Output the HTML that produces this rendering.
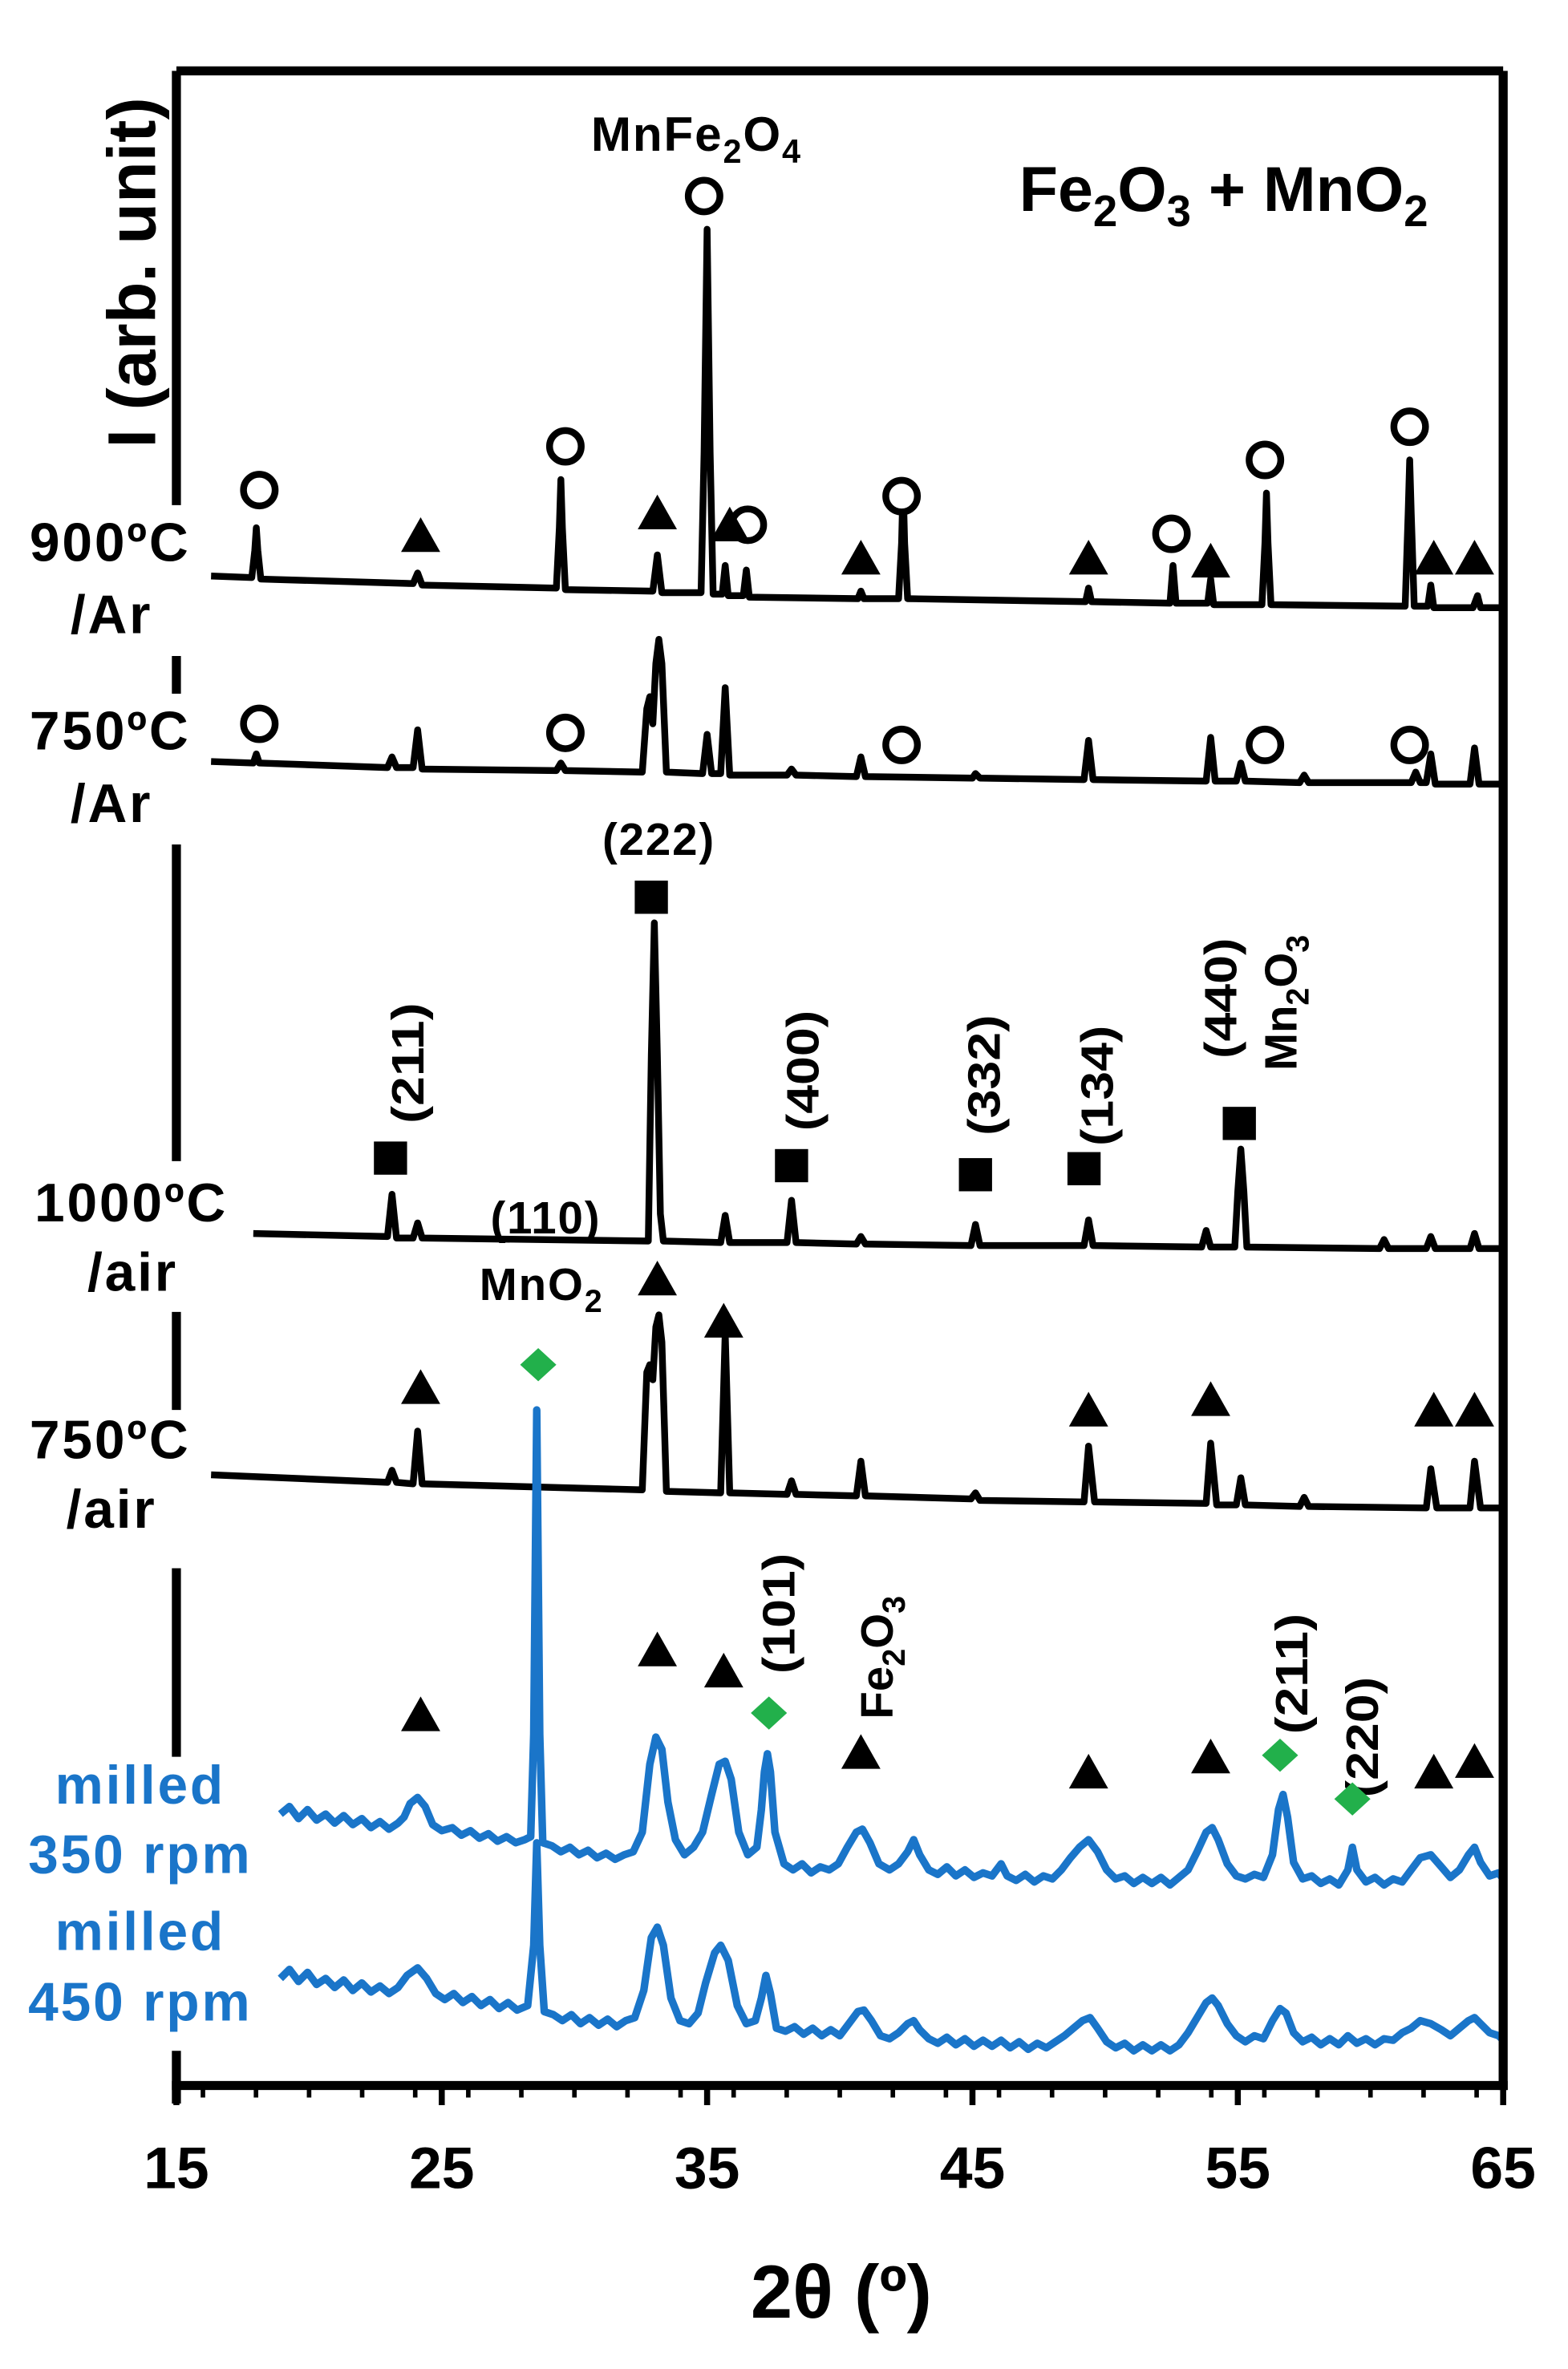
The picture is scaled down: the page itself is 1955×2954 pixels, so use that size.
<!DOCTYPE html>
<html><head><meta charset="utf-8"><style>html,body{margin:0;padding:0;background:#fff}svg{display:block}</style></head>
<body>
<svg width="1955" height="2954" viewBox="0 0 1040 1571" preserveAspectRatio="none" xmlns="http://www.w3.org/2000/svg" font-family="Liberation Sans, sans-serif" font-weight="bold">
<rect width="1040" height="1571" fill="#fff"/>
<g fill="none" stroke="#000" stroke-width="4.5" stroke-linejoin="round">
<path d="M140,382 L167,383 L169,365 L170,350 L171,365 L173,384 L274,387 L277,380 L280,388 L369,390 L371,350 L372,318 L373,350 L375,391 L433,392 L436,368 L439,393 L465,393 L467,300 L469,152 L471,300 L473,394 L479,394 L481,375 L483,395 L493,395 L495,378 L497,396 L569,397 L571,392 L573,397 L596,397 L598,360 L599,320 L600,360 L602,397 L720,399 L722,390 L724,399 L776,400 L778,375 L780,400 L801,400 L803,384 L805,401 L837,401 L839,360 L840,327 L841,360 L843,401 L932,402 L934,340 L935,305 L936,340 L938,402 L947,402 L949,388 L951,403 L977,403 L980,395 L982,403 L997,403"/>
<path d="M140,505 L168,506 L170,500 L172,506 L257,509 L260,502 L263,509 L274,509 L277,484 L280,510 L369,511 L372,506 L375,511 L426,512 L429,470 L431,462 L433,480 L435,440 L437,424 L439,440 L442,512 L466,513 L469,487 L472,513 L478,513 L481,456 L484,514 L522,514 L525,510 L528,514 L568,515 L571,502 L574,515 L645,516 L647,513 L650,516 L719,517 L722,491 L725,517 L800,518 L803,489 L806,518 L820,518 L823,506 L826,518 L862,519 L865,514 L868,519 L936,519 L939,512 L942,519 L946,519 L949,500 L952,520 L975,520 L978,496 L981,520 L997,520"/>
<path d="M168,818 L257,820 L260,792 L263,821 L274,821 L277,811 L280,821 L430,823 L432,700 L434,612 L436,700 L438,805 L440,823 L478,824 L481,806 L484,824 L522,824 L525,796 L528,824 L568,825 L571,820 L574,825 L644,826 L647,812 L650,826 L719,826 L722,809 L725,826 L797,827 L800,816 L803,827 L819,827 L821,790 L823,762 L825,790 L827,827 L915,828 L918,822 L921,828 L946,828 L949,820 L952,828 L975,828 L978,818 L981,828 L997,828"/>
<path d="M140,978 L257,983 L260,975 L263,983 L274,984 L277,949 L280,984 L426,988 L429,910 L431,905 L433,915 L435,880 L437,872 L439,890 L442,989 L478,990 L481,884 L484,990 L522,991 L525,982 L528,991 L568,992 L571,969 L574,992 L644,994 L647,990 L650,995 L719,996 L722,959 L726,996 L800,997 L803,957 L807,998 L820,998 L823,980 L826,998 L862,999 L865,993 L868,999 L946,1000 L949,974 L953,1000 L975,1000 L978,969 L982,1000 L997,1000"/>
</g>
<g fill="none" stroke="#1a75c9" stroke-width="5" stroke-linejoin="round">
<path d="M186,1203 L192,1198 L198,1206 L204,1200 L210,1207 L216,1203 L222,1209 L228,1204 L234,1210 L240,1206 L246,1212 L252,1208 L258,1213 L264,1209 L268,1205 L272,1196 L277,1192 L282,1198 L287,1210 L293,1214 L300,1212 L306,1217 L312,1214 L318,1219 L324,1216 L330,1221 L336,1218 L342,1222 L348,1220 L352,1218 L354,1150 L356,935 L358,1150 L360,1222 L366,1224 L372,1228 L378,1225 L384,1230 L390,1227 L396,1232 L402,1229 L408,1233 L414,1230 L420,1228 L426,1215 L431,1170 L435,1152 L439,1160 L443,1195 L448,1220 L454,1230 L460,1225 L466,1215 L472,1190 L477,1170 L481,1168 L485,1180 L490,1215 L496,1230 L502,1225 L505,1200 L507,1175 L509,1163 L511,1175 L514,1215 L520,1236 L526,1240 L532,1236 L538,1242 L544,1238 L550,1240 L556,1236 L562,1225 L568,1215 L572,1213 L577,1222 L583,1236 L590,1240 L596,1236 L602,1228 L606,1220 L610,1230 L616,1240 L622,1243 L628,1238 L634,1244 L640,1240 L646,1245 L652,1242 L658,1244 L664,1236 L668,1244 L674,1247 L680,1243 L686,1248 L692,1244 L698,1246 L704,1240 L710,1232 L716,1225 L722,1220 L728,1228 L734,1240 L740,1246 L746,1244 L752,1249 L758,1245 L764,1249 L770,1245 L776,1250 L782,1245 L788,1240 L794,1228 L800,1215 L804,1212 L808,1220 L814,1236 L820,1244 L826,1246 L832,1243 L838,1245 L844,1230 L848,1200 L851,1190 L854,1205 L858,1235 L864,1246 L870,1244 L876,1249 L882,1246 L888,1250 L894,1240 L897,1225 L900,1240 L906,1248 L912,1245 L918,1250 L924,1246 L930,1248 L936,1240 L942,1232 L949,1230 L956,1238 L962,1245 L968,1240 L974,1230 L978,1225 L982,1235 L988,1244 L994,1242 L997,1246"/>
<path d="M186,1312 L192,1306 L198,1314 L204,1308 L210,1316 L216,1312 L222,1318 L228,1313 L234,1320 L240,1315 L246,1321 L252,1317 L258,1322 L264,1318 L270,1310 L277,1305 L283,1312 L289,1322 L295,1326 L301,1322 L307,1328 L313,1324 L319,1330 L325,1326 L331,1332 L337,1328 L343,1333 L350,1330 L354,1290 L356,1222 L358,1290 L361,1334 L367,1336 L373,1340 L379,1336 L385,1342 L391,1338 L397,1343 L403,1339 L409,1344 L415,1340 L421,1338 L427,1320 L432,1285 L436,1278 L440,1290 L445,1325 L451,1340 L457,1342 L463,1335 L468,1315 L474,1295 L478,1290 L483,1300 L489,1330 L495,1342 L501,1340 L505,1325 L508,1310 L511,1322 L515,1345 L521,1347 L527,1344 L533,1349 L539,1345 L545,1350 L551,1346 L557,1350 L563,1342 L569,1334 L573,1333 L578,1340 L584,1350 L590,1352 L596,1348 L602,1342 L606,1340 L610,1346 L616,1352 L622,1355 L628,1351 L634,1356 L640,1352 L646,1357 L652,1353 L658,1357 L664,1353 L670,1358 L676,1354 L682,1359 L688,1355 L694,1358 L700,1354 L706,1350 L712,1345 L718,1340 L723,1338 L728,1345 L734,1354 L740,1358 L746,1355 L752,1360 L758,1356 L764,1360 L770,1356 L776,1360 L782,1356 L788,1348 L794,1338 L800,1328 L804,1325 L808,1330 L814,1342 L820,1350 L826,1354 L832,1350 L838,1352 L844,1340 L849,1332 L853,1335 L858,1348 L864,1354 L870,1351 L876,1356 L882,1352 L888,1356 L894,1350 L900,1355 L906,1352 L912,1356 L918,1352 L924,1353 L930,1348 L936,1345 L942,1340 L949,1342 L956,1346 L962,1350 L968,1345 L974,1340 L978,1338 L982,1342 L988,1348 L994,1350 L997,1353"/>
</g>
<g stroke="#000" stroke-width="6" fill="none">
<line x1="117" y1="47" x2="997" y2="47"/>
<line x1="997" y1="47" x2="997" y2="1386"/>
<line x1="114" y1="1383" x2="1000" y2="1383"/>
<line x1="117" y1="47" x2="117" y2="335"/>
<line x1="117" y1="435" x2="117" y2="460"/>
<line x1="117" y1="560" x2="117" y2="770"/>
<line x1="117" y1="870" x2="117" y2="935"/>
<line x1="117" y1="1040" x2="117" y2="1165"/>
<line x1="117" y1="1360" x2="117" y2="1395"/>
</g>
<g stroke="#000" stroke-width="4">
<path d="M117,1383V1396M293,1383V1396M469,1383V1396M645,1383V1396M821,1383V1396M997,1383V1396"/>
<path stroke-width="3" d="M134.6,1383V1391M169.8,1383V1391M205,1383V1391M240.2,1383V1391M275.4,1383V1391M310.6,1383V1391M345.8,1383V1391M381,1383V1391M416.2,1383V1391M451.4,1383V1391M486.6,1383V1391M521.8,1383V1391M557,1383V1391M592.2,1383V1391M627.4,1383V1391M662.6,1383V1391M697.8,1383V1391M733,1383V1391M768.2,1383V1391M803.4,1383V1391M838.6,1383V1391M873.8,1383V1391M909,1383V1391M944.2,1383V1391M979.4,1383V1391"/>
</g>
<g font-size="39" text-anchor="middle">
<text x="117" y="1451">15</text><text x="293" y="1451">25</text><text x="469" y="1451">35</text><text x="645" y="1451">45</text><text x="821" y="1451">55</text><text x="997" y="1451">65</text>
</g>
<text x="558" y="1537" font-size="50" text-anchor="middle">2θ (º)</text>
<text transform="translate(103,297) rotate(-90)" font-size="45">I (arb. unit)</text>
<g font-size="36" text-anchor="middle" letter-spacing="1.5">
<text x="73" y="372">900ºC</text><text x="74" y="420">/Ar</text>
<text x="73" y="497">750ºC</text><text x="74" y="545">/Ar</text>
<text x="87" y="810">1000ºC</text><text x="88" y="856">/air</text>
<text x="73" y="967">750ºC</text><text x="74" y="1013">/air</text>
<g fill="#1a75c9"><text x="93" y="1196">milled</text><text x="93" y="1242">350 rpm</text><text x="93" y="1293">milled</text><text x="93" y="1340">450 rpm</text></g>
</g>
<text x="392" y="100" font-size="32" letter-spacing="1">MnFe<tspan font-size="22" dy="8">2</tspan><tspan dy="-8">O</tspan><tspan font-size="22" dy="8">4</tspan></text>
<text x="676" y="140" font-size="42">Fe<tspan font-size="29" dy="10">2</tspan><tspan dy="-10">O</tspan><tspan font-size="29" dy="10">3</tspan><tspan dy="-10"> + MnO</tspan><tspan font-size="29" dy="10">2</tspan></text>
<g font-size="30">
<text x="437" y="567" text-anchor="middle" letter-spacing="1">(222)</text>
<text x="362" y="818" text-anchor="middle" letter-spacing="1">(110)</text>
<text x="318" y="862" letter-spacing="1">MnO<tspan font-size="21" dy="8">2</tspan></text>
<text transform="translate(281,745) rotate(-90)" textLength="80" lengthAdjust="spacingAndGlyphs">(211)</text>
<text transform="translate(543,750) rotate(-90)" textLength="80" lengthAdjust="spacingAndGlyphs">(400)</text>
<text transform="translate(663,753) rotate(-90)" textLength="80" lengthAdjust="spacingAndGlyphs">(332)</text>
<text transform="translate(738,760) rotate(-90)" textLength="80" lengthAdjust="spacingAndGlyphs">(134)</text>
<text transform="translate(820,702) rotate(-90)" textLength="80" lengthAdjust="spacingAndGlyphs">(440)</text>
<text transform="translate(860,710) rotate(-90)">Mn<tspan font-size="21" dy="8">2</tspan><tspan dy="-8">O</tspan><tspan font-size="21" dy="8">3</tspan></text>
<text transform="translate(527,1110) rotate(-90)" textLength="80" lengthAdjust="spacingAndGlyphs">(101)</text>
<text transform="translate(592,1140) rotate(-90)">Fe<tspan font-size="21" dy="8">2</tspan><tspan dy="-8">O</tspan><tspan font-size="21" dy="8">3</tspan></text>
<text transform="translate(867,1150) rotate(-90)" textLength="80" lengthAdjust="spacingAndGlyphs">(211)</text>
<text transform="translate(914,1192) rotate(-90)" textLength="80" lengthAdjust="spacingAndGlyphs">(220)</text>
</g>
<g fill="#fff" stroke="#000" stroke-width="4.5">
<circle cx="172" cy="325" r="10.5"/><circle cx="375" cy="296" r="10.5"/><circle cx="467" cy="130" r="10.5"/><circle cx="496" cy="348" r="10.5"/><circle cx="598" cy="329" r="10.5"/><circle cx="777" cy="354" r="10.5"/><circle cx="839" cy="305" r="10.5"/><circle cx="935" cy="283" r="10.5"/>
<circle cx="172" cy="480" r="10.5"/><circle cx="375" cy="486" r="10.5"/><circle cx="598" cy="494" r="10.5"/><circle cx="839" cy="494" r="10.5"/><circle cx="935" cy="494" r="10.5"/>
</g>
<g fill="#000">
<polygon points="266,366 292,366 279,343"/><polygon points="423,351 449,351 436,328"/><polygon points="471,359 497,359 484,336"/><polygon points="558,381 584,381 571,358"/><polygon points="709,381 735,381 722,358"/><polygon points="790,383 816,383 803,360"/><polygon points="938,381 964,381 951,358"/><polygon points="965,381 991,381 978,358"/>
<polygon points="423,859 449,859 436,836"/><polygon points="467,887 493,887 480,864"/><polygon points="266,931 292,931 279,908"/><polygon points="709,946 735,946 722,923"/><polygon points="790,939 816,939 803,916"/><polygon points="938,946 964,946 951,923"/><polygon points="965,946 991,946 978,923"/>
<polygon points="266,1148 292,1148 279,1125"/><polygon points="423,1105 449,1105 436,1082"/><polygon points="467,1119 493,1119 480,1096"/><polygon points="558,1173 584,1173 571,1150"/><polygon points="709,1186 735,1186 722,1163"/><polygon points="790,1176 816,1176 803,1153"/><polygon points="938,1186 964,1186 951,1163"/><polygon points="965,1179 991,1179 978,1156"/>
<rect x="248" y="757" width="22" height="22"/><rect x="421" y="584" width="22" height="22"/><rect x="514" y="762" width="22" height="22"/><rect x="636" y="768" width="22" height="22"/><rect x="708" y="764" width="22" height="22"/><rect x="811" y="734" width="22" height="22"/>
</g>
<g fill="#22b04b">
<polygon points="345,905 357,894 369,905 357,916"/><polygon points="498,1136 510,1125 522,1136 510,1147"/><polygon points="837,1164 849,1153 861,1164 849,1175"/><polygon points="885,1193 897,1182 909,1193 897,1204"/>
</g>
</svg>
</body></html>
